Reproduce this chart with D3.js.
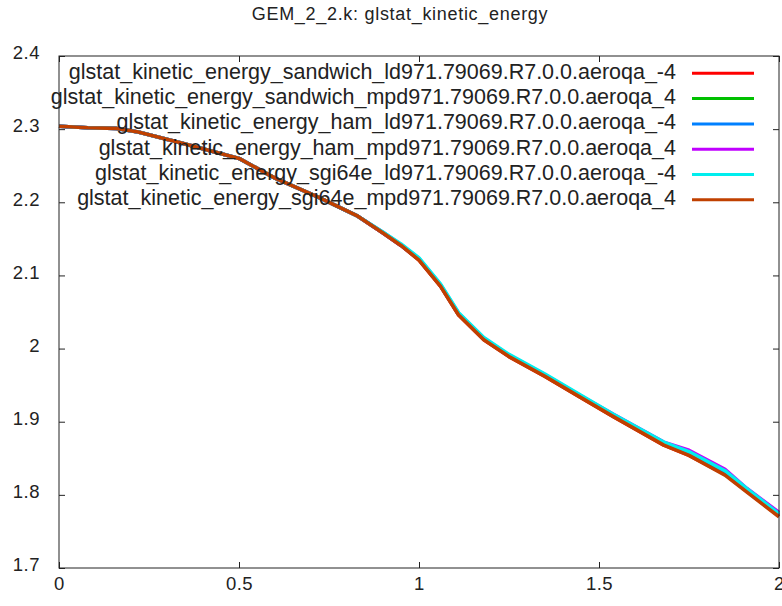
<!DOCTYPE html>
<html><head><meta charset="utf-8">
<script src="https://cdn.jsdelivr.net/npm/d3@7"></script>
<style>body{margin:0;background:#fff}text{font-family:"Liberation Sans",Arial,sans-serif;fill:#222}</style>
</head><body><svg id="c" width="782" height="606"></svg>
<script>
const title = "GEM_2_2.k: glstat_kinetic_energy";
const seriesNames = [
  "glstat_kinetic_energy_sandwich_ld971.79069.R7.0.0.aeroqa_-4",
  "glstat_kinetic_energy_sandwich_mpd971.79069.R7.0.0.aeroqa_4",
  "glstat_kinetic_energy_ham_ld971.79069.R7.0.0.aeroqa_-4",
  "glstat_kinetic_energy_ham_mpd971.79069.R7.0.0.aeroqa_4",
  "glstat_kinetic_energy_sgi64e_ld971.79069.R7.0.0.aeroqa_-4",
  "glstat_kinetic_energy_sgi64e_mpd971.79069.R7.0.0.aeroqa_4"
];
const colors = ["#ff0000","#00c000","#0080ff","#c000ff","#00eeee","#c04000"];
const xTicks = [0, 0.5, 1, 1.5, 2];
const yTicks = [1.7, 1.8, 1.9, 2.0, 2.1, 2.2, 2.3, 2.4];
const xs = [0, 0.08, 0.16, 0.22, 0.34, 0.5, 0.6, 0.72, 0.83, 0.9, 0.95, 1.0, 1.06, 1.11, 1.18, 1.25, 1.35, 1.45, 1.54, 1.68, 1.75, 1.85, 1.91, 2.0];
const sandwichLd  = [2.304,2.302,2.301,2.296,2.281,2.260,2.233,2.207,2.181,2.158,2.141,2.121,2.085,2.046,2.012,1.989,1.962,1.933,1.907,1.868,1.854,1.828,1.805,1.771];
const sandwichMpd = [2.304,2.302,2.301,2.296,2.281,2.260,2.233,2.207,2.181,2.158,2.141,2.122,2.086,2.047,2.013,1.990,1.963,1.934,1.908,1.870,1.857,1.831,1.808,1.775];
const hamLd       = [2.304,2.302,2.301,2.296,2.281,2.260,2.233,2.207,2.181,2.159,2.142,2.123,2.087,2.048,2.014,1.991,1.964,1.935,1.909,1.871,1.858,1.832,1.808,1.773];
const hamMpd      = [2.304,2.302,2.301,2.296,2.281,2.260,2.233,2.207,2.181,2.158,2.141,2.122,2.086,2.047,2.013,1.990,1.963,1.935,1.910,1.872,1.861,1.835,1.809,1.776];
const sgiLd       = [2.304,2.302,2.301,2.296,2.281,2.260,2.233,2.207,2.181,2.159,2.143,2.124,2.088,2.049,2.015,1.992,1.965,1.936,1.910,1.872,1.859,1.833,1.809,1.774];
const sgiMpd      = [2.304,2.302,2.301,2.296,2.281,2.260,2.233,2.207,2.181,2.158,2.141,2.121,2.085,2.046,2.012,1.989,1.962,1.933,1.907,1.868,1.854,1.827,1.804,1.770];
const allSeries = [sandwichLd, sandwichMpd, hamLd, hamMpd, sgiLd, sgiMpd];

const svg = d3.select("#c");
const L = 59, R = 779, T = 56, B = 568;
const x = d3.scaleLinear().domain([0, 2]).range([L, R]);
const y = d3.scaleLinear().domain([1.7, 2.4]).range([B, T]);
const FONT = '"Liberation Sans",Arial,sans-serif';

svg.append("text").attr("x", 400).attr("y", 20).attr("text-anchor", "middle")
  .attr("font-size", 18).attr("letter-spacing", 0.7).text(title);

const ax = svg.append("g");
ax.append("g").attr("transform", `translate(0,${B})`)
  .call(d3.axisBottom(x).tickValues(xTicks).tickSize(-6).tickPadding(9).tickFormat(d3.format("")));
ax.append("g").attr("transform", `translate(0,${T})`)
  .call(d3.axisTop(x).tickValues(xTicks).tickSize(-6).tickFormat(""));
const yl = ax.append("g").attr("transform", `translate(${L},0)`)
  .call(d3.axisLeft(y).tickValues(yTicks).tickSize(-6).tickPadding(19).tickFormat(d => d3.format("")(+d.toFixed(1))));
ax.append("g").attr("transform", `translate(${R},0)`)
  .call(d3.axisRight(y).tickValues(yTicks).tickSize(-6).tickFormat(""));
ax.selectAll(".domain").remove();
ax.selectAll("line").attr("stroke", "#222");
ax.selectAll("text").attr("font-size", 18.5).attr("font-family", FONT).attr("fill", "#222").attr("letter-spacing", 0.5);
yl.selectAll("text").attr("dy", "0.15em");

const line = d3.line().x((d, i) => x(xs[i])).y(d => y(d));
const plot = svg.append("g");
allSeries.forEach((s, k) => {
  plot.append("path").datum(s).attr("d", line).attr("fill", "none")
    .attr("stroke", colors[k]).attr("stroke-width", 3.6).attr("stroke-linejoin", "round");
});

svg.append("rect").attr("x", L).attr("y", T).attr("width", R - L).attr("height", B - T)
  .attr("fill", "none").attr("stroke", "#222").attr("stroke-width", 1);

const leg = svg.append("g");
seriesNames.forEach((n, k) => {
  const yy = 73.3 + k * 25.3;
  leg.append("text").attr("x", 676).attr("y", yy + 5.5)
    .attr("text-anchor", "end").attr("font-size", 21.5).text(n);
  leg.append("line").attr("x1", 692).attr("x2", 754).attr("y1", yy).attr("y2", yy)
    .attr("stroke", colors[k]).attr("stroke-width", 3);
});
</script></body></html>
